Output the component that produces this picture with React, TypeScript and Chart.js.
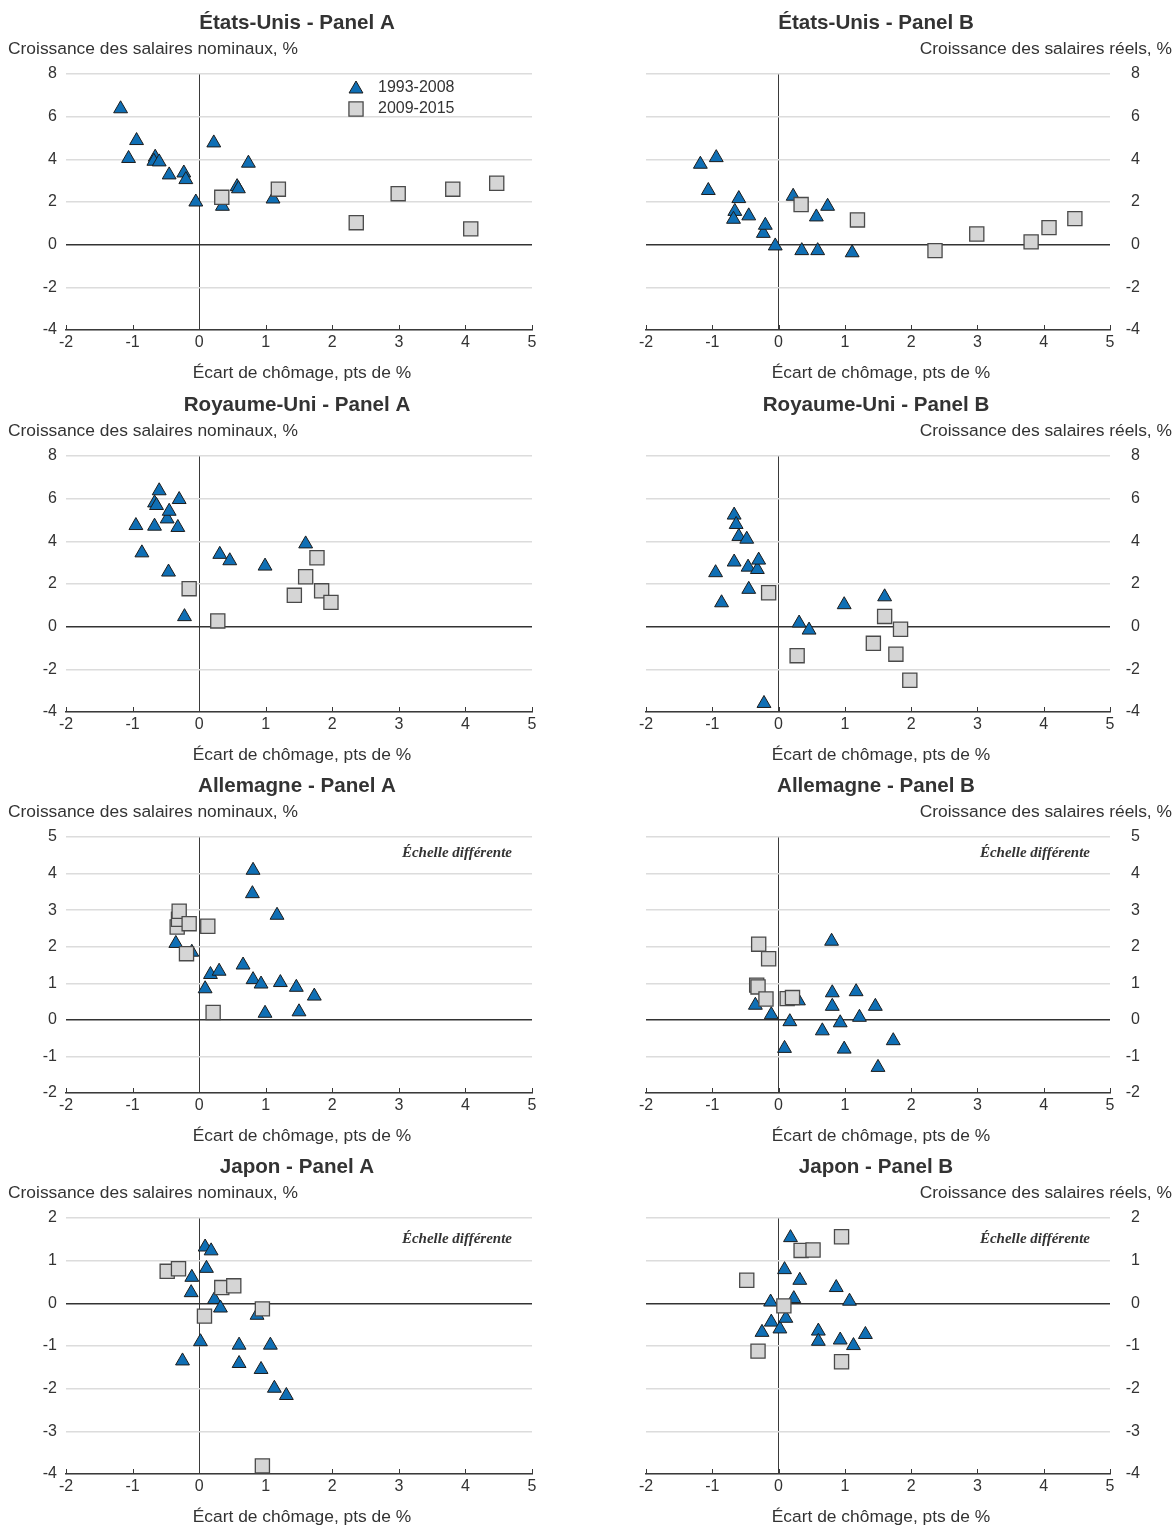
import { useEffect, useRef } from "react";
import { Chart, registerables } from "chart.js";

Chart.register(...registerables);

// Shared axis settings
const gapTicks = [-2, -1, 0, 1, 2, 3, 4, 5];
const periodLabels = ["1993-2008", "2009-2015"];
const gapCaption = "Écart de chômage, pts de %";
const nominalCaption = "Croissance des salaires nominaux, %";
const realCaption = "Croissance des salaires réels, %";
const noteText = "Échelle différente";

// États-Unis
const usGapEarly = [-1.18, -0.94, -1.06, -0.66, -0.68, -0.6, -0.45, -0.23, -0.2, -0.05, 0.22, 0.35, 0.57, 0.59, 0.74, 1.11];
const usNominalEarly = [6.37, 4.88, 4.04, 4.1, 3.91, 3.88, 3.27, 3.36, 3.05, 2.0, 4.77, 1.8, 2.72, 2.62, 3.82, 2.14];
const usRealEarly = [3.77, 4.08, 2.54, 1.56, 1.19, 2.16, 1.35, 0.53, 0.91, -0.06, 2.27, -0.28, 1.3, -0.28, 1.8, -0.38];
const usGapLate = [0.34, 1.19, 2.36, 2.99, 3.81, 4.08, 4.47];
const usNominalLate = [2.22, 2.6, 1.03, 2.39, 2.6, 0.74, 2.88];
const usRealLate = [1.88, 1.16, -0.28, 0.5, 0.13, 0.8, 1.22];

// Royaume-Uni
const ukGapEarly = [-0.95, -0.86, -0.67, -0.67, -0.64, -0.6, -0.48, -0.46, -0.45, -0.32, -0.3, -0.22, 0.31, 0.46, 0.99, 1.6];
const ukNominalEarly = [4.74, 3.46, 5.8, 4.71, 5.68, 6.37, 5.05, 2.56, 5.41, 4.65, 5.96, 0.47, 3.39, 3.09, 2.84, 3.88];
const ukRealEarly = [2.53, 1.12, 3.03, 5.23, 4.79, 4.23, 4.1, 2.79, 1.75, 2.68, 3.12, -3.6, 0.17, -0.16, 1.03, 1.4];
const ukGapLate = [-0.15, 0.28, 1.43, 1.6, 1.77, 1.84, 1.98];
const ukNominalLate = [1.78, 0.27, 1.47, 2.34, 3.23, 1.68, 1.14];
const ukRealLate = [1.59, -1.36, -0.78, 0.48, -1.29, -0.12, -2.51];

// Allemagne
const deGapEarly = [-0.35, -0.11, 0.09, 0.17, 0.3, 0.66, 0.8, 0.81, 0.81, 0.93, 0.99, 1.17, 1.22, 1.46, 1.5, 1.73];
const deNominalEarly = [2.09, 1.85, 0.85, 1.24, 1.33, 1.5, 3.45, 4.09, 1.1, 0.98, 0.18, 2.86, 1.02, 0.89, 0.22, 0.65];
const deRealEarly = [0.4, 0.14, -0.78, -0.05, 0.52, -0.3, 2.15, 0.74, 0.37, -0.08, -0.8, 0.77, 0.07, 0.37, -1.3, -0.57];
const deGapLate = [-0.33, -0.31, -0.3, -0.19, -0.15, 0.13, 0.21];
const deNominalLate = [2.54, 2.75, 2.97, 1.81, 2.63, 2.56, 0.2];
const deRealLate = [0.95, 0.9, 2.07, 0.57, 1.67, 0.58, 0.61];

// Japon
const jpGapEarly = [-0.25, -0.12, -0.11, 0.02, 0.09, 0.11, 0.18, 0.23, 0.32, 0.6, 0.6, 0.87, 0.93, 1.07, 1.13, 1.31];
const jpNominalEarly = [-1.35, 0.25, 0.61, -0.9, 1.32, 0.82, 1.23, 0.09, -0.11, -0.98, -1.41, -0.28, -1.55, -0.98, -1.99, -2.16];
const jpRealEarly = [-0.68, 0.03, -0.44, -0.6, 0.79, -0.35, 1.54, 0.11, 0.54, -0.65, -0.89, 0.37, -0.86, 0.05, -0.99, -0.73];
const jpGapLate = [-0.48, -0.31, 0.08, 0.34, 0.52, 0.95, 0.95];
const jpNominalLate = [0.75, 0.81, -0.3, 0.37, 0.41, -0.13, -3.81];
const jpRealLate = [0.54, -1.12, -0.06, 1.24, 1.25, 1.56, -1.37];

// Styling
const SANS = '"Liberation Sans", Arial, Helvetica, sans-serif';
const SERIF = '"Liberation Serif", "Times New Roman", serif';
const TEXT = "#333333";
const BLUE = "#0f6fb5";
const BLUE_EDGE = "#1c1c1c";
const GREY = "#d5d5d5";
const GREY_EDGE = "#4a4a4a";
const PANEL_W = 588;
const PANEL_H = 382;
const ROW_TOPS = [0, 382, 763, 1144];
const PLOT_TOP = 74;
const PLOT_H = 256;
const TRI_R = 8;
const SQ_R = 10;

type Side = "left" | "right";

interface PanelSpec {
  title: string;
  side: Side;
  row: number;
  caption: string;
  gapEarly: number[];
  wageEarly: number[];
  gapLate: number[];
  wageLate: number[];
  yMin: number;
  yMax: number;
  yStep: number;
  legend?: boolean;
  noteOffset?: number;
}

const zip = (xs: number[], ys: number[]) => xs.map((x, i) => ({ x, y: ys[i] }));

const panels: PanelSpec[] = [
  { title: "États-Unis - Panel A", side: "left", row: 0, caption: nominalCaption, gapEarly: usGapEarly, wageEarly: usNominalEarly, gapLate: usGapLate, wageLate: usNominalLate, yMin: -4, yMax: 8, yStep: 2, legend: true },
  { title: "États-Unis - Panel B", side: "right", row: 0, caption: realCaption, gapEarly: usGapEarly, wageEarly: usRealEarly, gapLate: usGapLate, wageLate: usRealLate, yMin: -4, yMax: 8, yStep: 2 },
  { title: "Royaume-Uni - Panel A", side: "left", row: 1, caption: nominalCaption, gapEarly: ukGapEarly, wageEarly: ukNominalEarly, gapLate: ukGapLate, wageLate: ukNominalLate, yMin: -4, yMax: 8, yStep: 2 },
  { title: "Royaume-Uni - Panel B", side: "right", row: 1, caption: realCaption, gapEarly: ukGapEarly, wageEarly: ukRealEarly, gapLate: ukGapLate, wageLate: ukRealLate, yMin: -4, yMax: 8, yStep: 2 },
  { title: "Allemagne - Panel A", side: "left", row: 2, caption: nominalCaption, gapEarly: deGapEarly, wageEarly: deNominalEarly, gapLate: deGapLate, wageLate: deNominalLate, yMin: -2, yMax: 5, yStep: 1, noteOffset: 16 },
  { title: "Allemagne - Panel B", side: "right", row: 2, caption: realCaption, gapEarly: deGapEarly, wageEarly: deRealEarly, gapLate: deGapLate, wageLate: deRealLate, yMin: -2, yMax: 5, yStep: 1, noteOffset: 16 },
  { title: "Japon - Panel A", side: "left", row: 3, caption: nominalCaption, gapEarly: jpGapEarly, wageEarly: jpNominalEarly, gapLate: jpGapLate, wageLate: jpNominalLate, yMin: -4, yMax: 2, yStep: 1, noteOffset: 21 },
  { title: "Japon - Panel B", side: "right", row: 3, caption: realCaption, gapEarly: jpGapEarly, wageEarly: jpRealEarly, gapLate: jpGapLate, wageLate: jpRealLate, yMin: -4, yMax: 2, yStep: 1, noteOffset: 21 },
];

function drawTriangle(ctx: CanvasRenderingContext2D, x: number, y: number, r: number) {
  ctx.beginPath();
  ctx.moveTo(x, y - r);
  ctx.lineTo(x + r * 0.866, y + r * 0.5);
  ctx.lineTo(x - r * 0.866, y + r * 0.5);
  ctx.closePath();
  ctx.fillStyle = BLUE;
  ctx.fill();
  ctx.strokeStyle = BLUE_EDGE;
  ctx.lineWidth = 1;
  ctx.stroke();
}

function drawSquare(ctx: CanvasRenderingContext2D, x: number, y: number, r: number) {
  const h = Math.SQRT1_2 * r;
  ctx.beginPath();
  ctx.rect(x - h, y - h, 2 * h, 2 * h);
  ctx.fillStyle = GREY;
  ctx.fill();
  ctx.strokeStyle = GREY_EDGE;
  ctx.lineWidth = 1.3;
  ctx.stroke();
}

// Draws the panel title, axis captions, x tick marks, legend and scale note
const panelTextPlugin = {
  id: "panelText",
  beforeDatasetsDraw(chart: any) {
    const { ctx, chartArea: a } = chart;
    const xs = chart.scales.x;
    ctx.save();
    ctx.strokeStyle = "#3a3a3a";
    ctx.lineWidth = 1;
    for (const v of gapTicks) {
      const px = Math.round(xs.getPixelForValue(v)) + 0.5;
      ctx.beginPath();
      ctx.moveTo(px, a.bottom);
      ctx.lineTo(px, a.bottom - 5);
      ctx.stroke();
    }
    ctx.restore();
  },
  afterDraw(chart: any) {
    const spec: PanelSpec = chart.options.plugins.panelText.spec;
    const { ctx, chartArea: a, width } = chart;
    const cx = (a.left + a.right) / 2 - 2;
    ctx.save();
    ctx.fillStyle = TEXT;
    ctx.textBaseline = "middle";

    ctx.font = `bold 20.6px ${SANS}`;
    ctx.textAlign = "center";
    ctx.fillText(spec.title, cx, a.top - 51);

    ctx.font = `17.4px ${SANS}`;
    if (spec.side === "left") {
      ctx.textAlign = "left";
      ctx.fillText(spec.caption, 8, a.top - 25);
    } else {
      ctx.textAlign = "right";
      ctx.fillText(spec.caption, width - 4, a.top - 25);
    }

    ctx.textAlign = "center";
    ctx.fillText(gapCaption, (a.left + a.right) / 2 + 3, a.bottom + 43);

    if (spec.noteOffset !== undefined) {
      ctx.font = `italic bold 15px ${SERIF}`;
      ctx.textAlign = "right";
      ctx.fillText(noteText, a.right - 20, a.top + spec.noteOffset);
    }

    if (spec.legend) {
      const mx = a.left + 290;
      const tx = a.left + 312;
      const y1 = a.top + 14;
      const y2 = a.top + 35;
      drawTriangle(ctx, mx, y1 + 1, TRI_R);
      drawSquare(ctx, mx, y2, SQ_R);
      ctx.fillStyle = TEXT;
      ctx.font = `16px ${SANS}`;
      ctx.textAlign = "left";
      ctx.textBaseline = "middle";
      ctx.fillText(periodLabels[0], tx, y1);
      ctx.fillText(periodLabels[1], tx, y2);
    }
    ctx.restore();
  },
};

function ScatterPanel({ spec }: { spec: PanelSpec }) {
  const ref = useRef<HTMLCanvasElement | null>(null);

  useEffect(() => {
    if (!ref.current) return;
    const isLeft = spec.side === "left";
    const yWidth = isLeft ? 50 : 30;
    const padding = isLeft
      ? { left: 66 - yWidth, right: PANEL_W - 532, top: PLOT_TOP, bottom: PANEL_H - PLOT_TOP - PLOT_H - 20 }
      : { left: 58, right: PANEL_W - 522 - yWidth, top: PLOT_TOP, bottom: PANEL_H - PLOT_TOP - PLOT_H - 20 };

    const chart = new Chart(ref.current, {
      type: "scatter",
      data: {
        datasets: [
          {
            label: periodLabels[0],
            data: zip(spec.gapEarly, spec.wageEarly),
            pointStyle: "triangle",
            pointRadius: TRI_R,
            pointHoverRadius: TRI_R,
            backgroundColor: BLUE,
            borderColor: BLUE_EDGE,
            borderWidth: 1,
            order: 1,
          },
          {
            label: periodLabels[1],
            data: zip(spec.gapLate, spec.wageLate),
            pointStyle: "rect",
            pointRadius: SQ_R,
            pointHoverRadius: SQ_R,
            backgroundColor: GREY,
            borderColor: GREY_EDGE,
            borderWidth: 1.3,
            order: 0,
          },
        ],
      },
      options: {
        animation: false,
        responsive: false,
        devicePixelRatio: 1,
        layout: { padding },
        plugins: {
          legend: { display: false },
          title: { display: false },
          tooltip: { enabled: false },
          panelText: { spec },
        } as any,
        scales: {
          x: {
            type: "linear",
            min: -2,
            max: 5,
            afterBuildTicks: (s: any) => {
              s.ticks = gapTicks.map((v) => ({ value: v }));
            },
            afterFit: (s: any) => {
              s.height = 20;
            },
            ticks: {
              color: TEXT,
              font: { family: SANS, size: 16 },
              padding: 3,
              maxRotation: 0,
              autoSkip: false,
            },
            grid: {
              drawTicks: false,
              color: (c: any) => (c.tick && c.tick.value === 0 ? "#3a3a3a" : "rgba(0,0,0,0)"),
              lineWidth: 1,
            },
            border: { display: true, color: "#3a3a3a", width: 1.5 },
          },
          y: {
            type: "linear",
            position: spec.side,
            min: spec.yMin,
            max: spec.yMax,
            afterFit: (s: any) => {
              s.width = yWidth;
            },
            ticks: {
              stepSize: spec.yStep,
              color: TEXT,
              font: { family: SANS, size: 16 },
              padding: 9,
              crossAlign: isLeft ? "near" : "far",
            },
            grid: {
              drawTicks: false,
              color: (c: any) => (c.tick && c.tick.value === 0 ? "#333333" : "#dcdcdc"),
              lineWidth: (c: any) => (c.tick && c.tick.value === 0 ? 1.4 : 1.5),
            },
            border: { display: false },
          },
        },
      },
      plugins: [panelTextPlugin],
    } as any);
    return () => chart.destroy();
  }, [spec]);

  return (
    <div
      style={{
        position: "absolute",
        left: spec.side === "left" ? 0 : PANEL_W,
        top: ROW_TOPS[spec.row],
        width: PANEL_W,
        height: PANEL_H,
      }}
    >
      <canvas ref={ref} width={PANEL_W} height={PANEL_H} style={{ display: "block" }} />
    </div>
  );
}

export default function App() {
  return (
    <div
      style={{
        position: "absolute",
        left: 0,
        top: 0,
        width: 1176,
        height: 1528,
        background: "#ffffff",
        overflow: "hidden",
      }}
    >
      {panels.map((p) => (
        <ScatterPanel key={p.title} spec={p} />
      ))}
    </div>
  );
}
